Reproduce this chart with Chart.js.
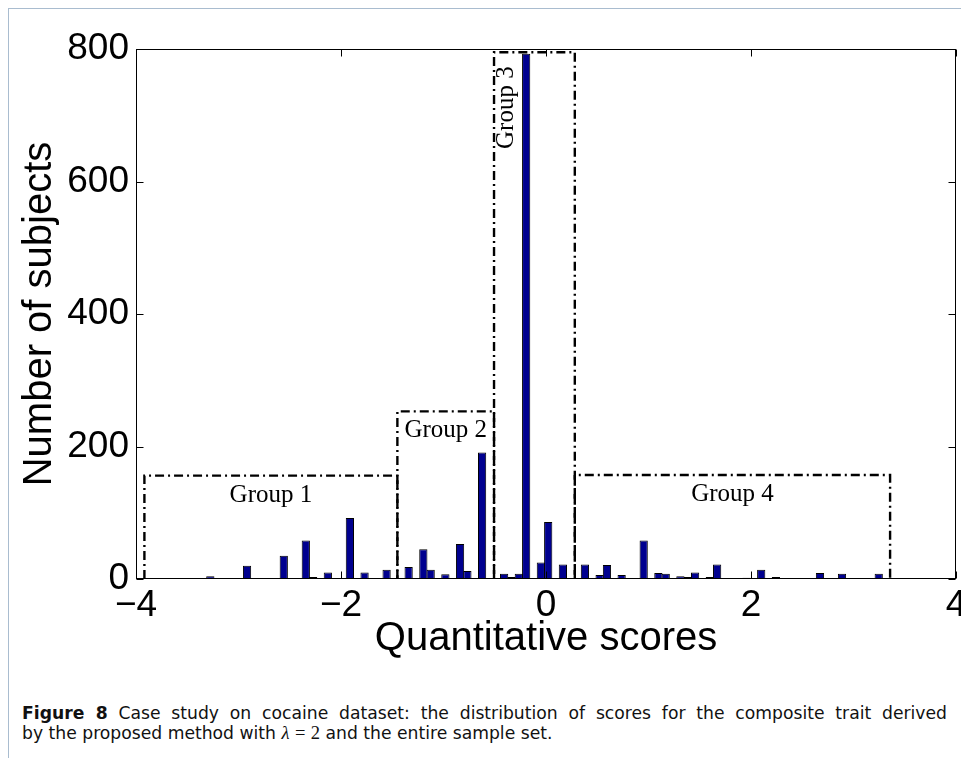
<!DOCTYPE html>
<html>
<head>
<meta charset="utf-8">
<script src="https://cdn.jsdelivr.net/npm/chart.js@4/dist/chart.umd.min.js"></script>
<style>
  html, body { margin: 0; padding: 0; background: #fff; overflow: hidden; width: 961px; height: 764px; }
  #frame { position: absolute; left: 8px; top: 8px; width: 1000px; height: 749px;
           border-top: 1px solid #a9bccf; border-left: 1px solid #a9bccf; }
  #plot { position: absolute; left: 0; top: 0; }
  #caption { position: absolute; left: 22px; top: 703px; width: 925px; font-family: "DejaVu Sans", sans-serif;
             font-size: 17.2px; line-height: 20px; color: #111; white-space: nowrap; }
  #caption .l1 { text-align: justify; text-align-last: justify; white-space: normal; }
  #caption .m { font-family: "Liberation Serif", serif; font-style: italic; font-size: 18.5px; }
  #caption .r { font-family: "Liberation Serif", serif; font-size: 18.5px; }
</style>
</head>
<body>
<div id="frame"></div>
<canvas id="plot" width="980" height="680"></canvas>
<div id="caption"><div class="l1"><b>Figure 8</b> Case study on cocaine dataset: the distribution of scores for the composite trait derived</div><div>by the proposed method with <span class="m">λ</span> <span class="r">=</span> <span class="r">2</span> and the entire sample set.</div></div>
<script>
// Histogram of the composite-trait scores: 100 equal-width bins between binLo and binHi
const binLo = -3.884;
const binHi = 3.282;
const counts = [
  1, 0, 0, 0, 0, 1, 0, 0, 4, 0,
  0, 0, 0, 20, 0, 0, 0, 0, 35, 0,
  0, 58, 3, 0, 10, 0, 0, 92, 0, 10,
  1, 0, 14, 0, 0, 18, 0, 45, 14, 0,
  7, 0, 53, 12, 0, 191, 0, 0, 8, 3,
  8, 793, 0, 25, 86, 0, 22, 0, 0, 22,
  0, 6, 21, 0, 6, 0, 0, 58, 0, 9,
  8, 0, 4, 3, 10, 0, 3, 22, 0, 0,
  0, 2, 0, 14, 0, 3, 1, 0, 1, 0,
  0, 9, 0, 0, 8, 0, 1, 0, 0, 8
];

// Axis ticks
const xTickValues = [-4, -2, 0, 2, 4];
const xTickLabels = ['\u22124', '\u22122', '0', '2', '4'];
const yTickValues = [0, 200, 400, 600, 800];
const yTickLabels = ['0', '200', '400', '600', '800'];

// Score groups (dash-dot boxes)
const groupNames = ['Group 1', 'Group 2', 'Group 3', 'Group 4'];
const groupLo = [-3.918, -1.450, -0.507, 0.281];
const groupHi = [-1.450, -0.507, 0.281, 3.357];
const groupTop = [156, 253, 795, 157];

const binWidth = (binHi - binLo) / counts.length;
const bins = counts.map((c, i) => ({ x: binLo + (i + 0.5) * binWidth, y: c }));

const groupDatasets = groupNames.map((name, i) => ({
  type: 'line',
  label: name,
  data: [
    { x: groupLo[i], y: 0 },
    { x: groupLo[i], y: groupTop[i] },
    { x: groupHi[i], y: groupTop[i] },
    { x: groupHi[i], y: 0 }
  ],
  borderColor: '#000',
  borderWidth: 2.4,
  borderDash: [9, 4, 2, 4],
  pointRadius: 0,
  fill: false,
  tension: 0,
  order: 1
}));

// Boxed axes with inward tick marks on all four sides
const axesFrame = {
  id: 'axesFrame',
  afterDatasetsDraw(chart) {
    const { ctx, chartArea: a, scales: { x, y } } = chart;
    const L = a.left + 0.5, R = a.right - 0.5, T = a.top + 0.5, B = a.bottom - 0.5;
    ctx.save();
    ctx.strokeStyle = '#000';
    ctx.lineWidth = 1;
    ctx.strokeRect(L, T, R - L, B - T);
    ctx.beginPath();
    xTickValues.forEach(v => {
      const px = Math.round(x.getPixelForValue(v)) + 0.5;
      ctx.moveTo(px, B); ctx.lineTo(px, B - 7);
      ctx.moveTo(px, T); ctx.lineTo(px, T + 7);
    });
    yTickValues.forEach(v => {
      const py = Math.round(y.getPixelForValue(v)) + 0.5;
      ctx.moveTo(L, py); ctx.lineTo(L + 7, py);
      ctx.moveTo(R, py); ctx.lineTo(R - 7, py);
    });
    ctx.stroke();
    ctx.restore();
  }
};

// Group names written inside their boxes
const groupLabels = {
  id: 'groupLabels',
  afterDatasetsDraw(chart) {
    const { ctx, scales: { x, y } } = chart;
    ctx.save();
    ctx.fillStyle = '#000';
    ctx.font = '25px "Liberation Serif"';
    groupNames.forEach((name, i) => {
      const lo = x.getPixelForValue(groupLo[i]);
      const hi = x.getPixelForValue(groupHi[i]);
      const top = y.getPixelForValue(groupTop[i]);
      if (i === 2) {
        ctx.save();
        ctx.translate(lo + 19, top + 14);
        ctx.rotate(-Math.PI / 2);
        ctx.textAlign = 'right';
        ctx.textBaseline = 'alphabetic';
        ctx.fillText(name, 0, 0);
        ctx.restore();
      } else {
        ctx.textAlign = 'center';
        ctx.textBaseline = 'alphabetic';
        ctx.fillText(name, (lo + hi) / 2, top + 26);
      }
    });
    ctx.restore();
  }
};

new Chart(document.getElementById('plot'), {
  type: 'bar',
  data: {
    datasets: [
      {
        type: 'bar',
        label: 'Subjects',
        data: bins,
        backgroundColor: '#00008f',
        borderColor: '#000',
        borderWidth: 1,
        borderSkipped: false,
        barPercentage: 1.12,
        categoryPercentage: 1,
        order: 2
      },
      ...groupDatasets
    ]
  },
  options: {
    responsive: false,
    animation: false,
    events: [],
    layout: { padding: { top: 49, right: 24, bottom: 0, left: 0 } },
    plugins: { legend: { display: false }, tooltip: { enabled: false } },
    scales: {
      x: {
        type: 'linear',
        min: -4,
        max: 4,
        offset: false,
        afterBuildTicks: s => { s.ticks = xTickValues.map(v => ({ value: v })); },
        afterFit: s => { s.height = 101; },
        grid: { display: false, drawTicks: false },
        border: { display: false },
        ticks: {
          autoSkip: false,
          maxRotation: 0,
          padding: 5,
          color: '#000',
          font: { family: 'Liberation Sans', size: 37 },
          callback: v => xTickLabels[xTickValues.indexOf(v)]
        },
        title: {
          display: true,
          text: 'Quantitative scores',
          color: '#000',
          font: { family: 'Liberation Sans', size: 40 },
          padding: { top: 0, bottom: 17 }
        }
      },
      y: {
        type: 'linear',
        min: 0,
        max: 800,
        afterBuildTicks: s => { s.ticks = yTickValues.map(v => ({ value: v })); },
        afterFit: s => { s.width = 136; },
        grid: { display: false, drawTicks: false },
        border: { display: false },
        ticks: {
          padding: 7,
          color: '#000',
          font: { family: 'Liberation Sans', size: 37 },
          callback: v => yTickLabels[yTickValues.indexOf(v)]
        },
        title: {
          display: true,
          text: 'Number of subjects',
          color: '#000',
          font: { family: 'Liberation Sans', size: 40 },
          padding: { top: 16, bottom: 0 }
        }
      }
    }
  },
  plugins: [axesFrame, groupLabels]
});
</script>
</body>
</html>
